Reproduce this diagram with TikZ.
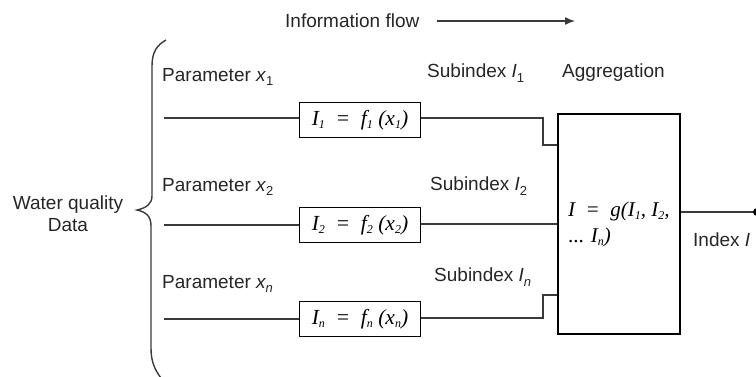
\documentclass[tikz,border=0pt]{standalone}
\usepackage{fontspec}
\setmainfont{Liberation Sans}
\newfontfamily\tms{Liberation Serif}
\usetikzlibrary{arrows.meta}
\definecolor{txt}{HTML}{262626}
\definecolor{ln}{HTML}{3A3A3A}
\newcommand{\sbs}[1]{\raisebox{-0.45ex}{\fontsize{13}{13}\selectfont #1}}
\newcommand{\tsb}[1]{\raisebox{-0.3ex}{\fontsize{12}{12}\selectfont\itshape #1}}
\tikzset{
  lbl/.style={font=\fontsize{19}{22}\selectfont, text=txt, inner sep=0pt},
  fbox/.style={draw=black, line width=1.6pt, minimum width=121pt, minimum height=35pt, inner sep=0pt, font=\fontsize{21.5}{22}\selectfont\tms\itshape, text=black},
  conn/.style={draw=ln, line width=1.4pt},
}
\begin{document}
\begin{tikzpicture}[x=1pt,y=-1pt]
\useasboundingbox (0,0) rectangle (756,376);
% info flow
\node[lbl, anchor=west] (info) at (285,21) {Information flow};
\coordinate (ia) at (437,21);
\coordinate (ib) at (575,21);
\draw[conn, -{Latex[length=10pt,width=8pt]}] (ia) -- (ib);
% brace
\draw[ln, line width=1.4pt] (166,40) .. controls (157,45) and (152,52) .. (152,66) -- (152,196)
  .. controls (152,204) and (146,208) .. (137,210)
  .. controls (146,212) and (151,216) .. (151,226) -- (151,348)
  .. controls (151,362) and (155,370) .. (161,378);
\node[lbl, align=center] (wq) at (68,214) {Water quality\\Data};
% parameter labels
\node[lbl, anchor=west] (p1) at (162,77) {Parameter \textit{x}\sbs{1}};
\node[lbl, anchor=west] (p2) at (162,187) {Parameter \textit{x}\sbs{2}};
\node[lbl, anchor=west] (pn) at (162,284) {Parameter \textit{x\sbs{n}}};
% function boxes
\node[fbox] (f1) at (360,120) {I\tsb{1}~ = ~f\tsb{1} (x\tsb{1})};
\node[fbox] (f2) at (360,225) {I\tsb{2}~ = ~f\tsb{2} (x\tsb{2})};
\node[fbox] (fn) at (360,319) {I\tsb{n}~ = ~f\tsb{n} (x\tsb{n})};
\coordinate (s1) at (164,118);
\coordinate (s2) at (164,225);
\coordinate (sn) at (164,319);
\draw[conn] (s1) -- (s1 -| f1.west);
\draw[conn] (s2) -- (s2 -| f2.west);
\draw[conn] (sn) -- (sn -| fn.west);
% subindex labels
\node[lbl, anchor=west] (si1) at (427,73) {Subindex \textit{I}\sbs{1}};
\node[lbl, anchor=west] (si2) at (430,186) {Subindex \textit{I}\sbs{2}};
\node[lbl, anchor=west] (sin) at (434,277) {Subindex \textit{I\sbs{n}}};
\node[lbl, anchor=west] (agl) at (562,73) {Aggregation};
% aggregation box
\node[draw=black, line width=1.6pt, minimum width=122pt, minimum height=220pt, inner sep=0pt] (agg) at (619,224) {};
\node[anchor=north west, inner sep=0pt, align=left, font=\fontsize{21}{26}\selectfont\tms\itshape] (agf) at (568,202) {I ~= ~g(I\tsb{1}, I\tsb{2},\\\upshape ...\itshape{} I\tsb{n})};
% connectors to aggregation
\draw[conn] (f1.east |- 0,118) -- (543,118) -- (543,145) -- (agg.west |- 0,145);
\draw[conn] (f2.east |- 0,224) -- (agg.west |- 0,224);
\draw[conn] (fn.east |- 0,318) -- (543,318) -- (543,295) -- (agg.west |- 0,295);
% output
\coordinate (out) at (757,212);
\draw[conn] (agg.east |- out) -- (out);
\fill[black] (out) circle (4pt);
\node[lbl, anchor=west] (idx) at (693,240) {Index \textit{I}};
\end{tikzpicture}
\end{document}
